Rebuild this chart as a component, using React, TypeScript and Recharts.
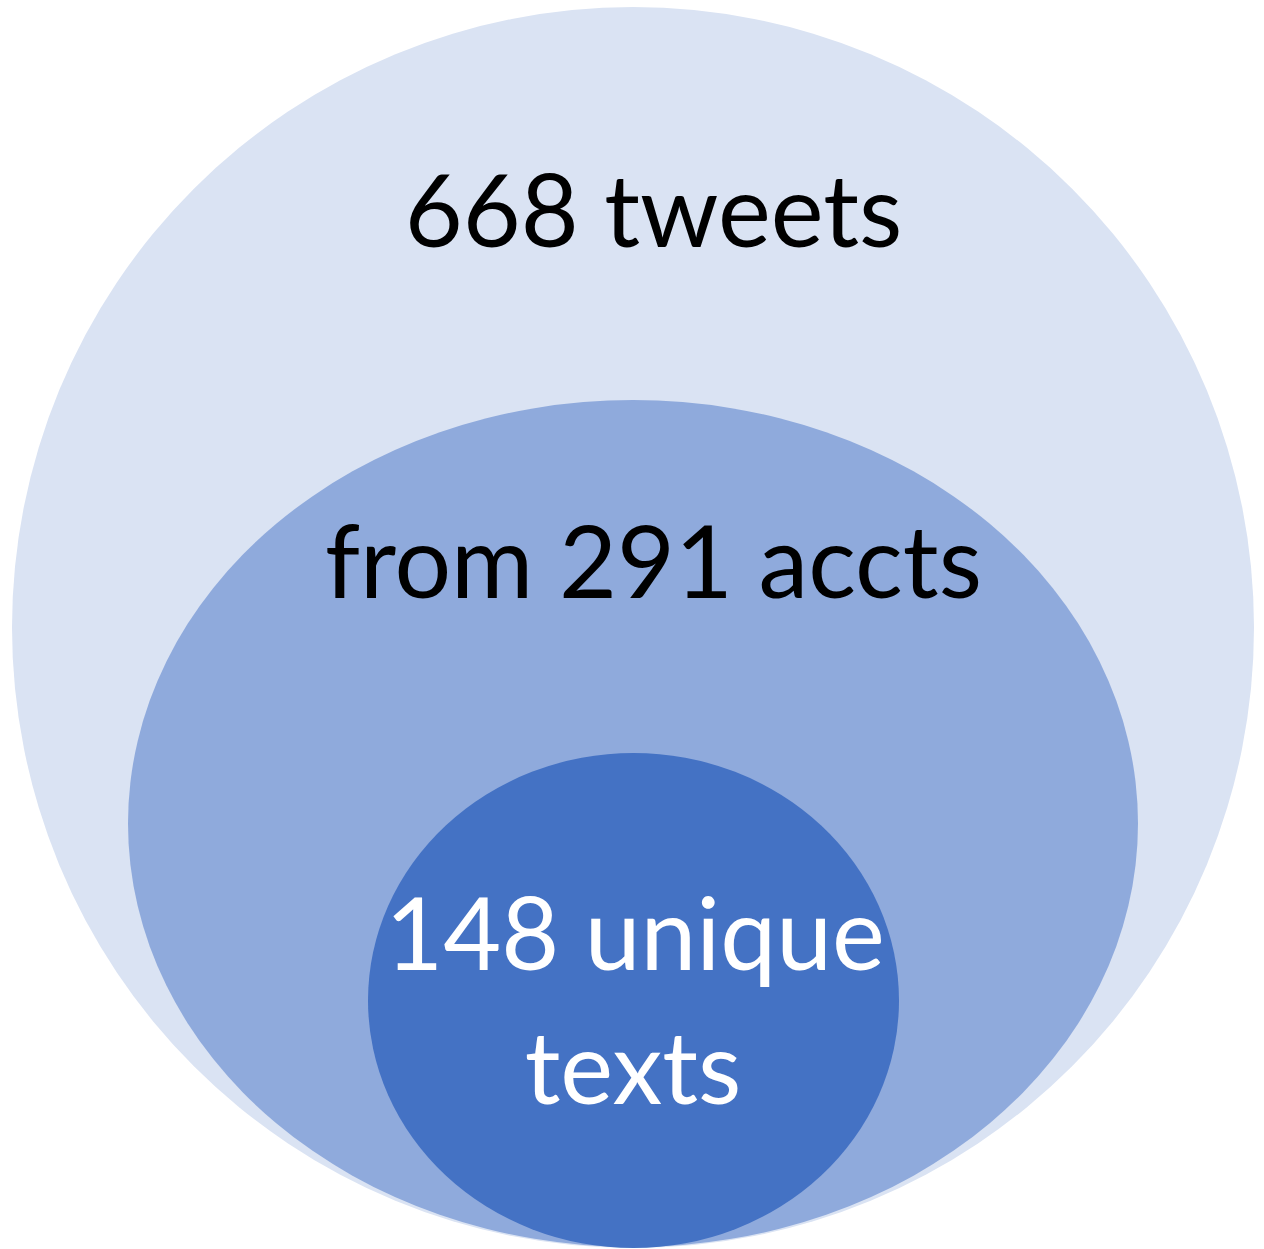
import { Scatter, ScatterChart, XAxis, YAxis } from "recharts";

const W = 1264;
const H = 1249;

// nested sets, outer to inner (coords in picture units)
const SET_NAMES = ["tweets", "accounts", "unique texts"];
const SET_CX = [633, 633, 633.5];
const SET_CY = [627.5, 823.5, 1000.5];
const SET_RX = [621, 505, 265.5];
const SET_RY = [620.5, 423.5, 247.5];
const SET_FILL = ["#dae3f3", "#8faadc", "#4472c4"];

const LABEL_TEXT = ["668 tweets", "from 291 accts", "148 unique", "texts"];
const LABEL_X = [653.5, 653.5, 635, 633];
const LABEL_Y = [247, 598, 970, 1104];
const LABEL_COLOR = ["#000000", "#000000", "#ffffff", "#ffffff"];

const sets = SET_NAMES.map((name, i) => ({
  name, x: SET_CX[i], y: SET_CY[i], rx: SET_RX[i], ry: SET_RY[i], fill: SET_FILL[i],
}));
const labels = LABEL_TEXT.map((text, i) => ({
  text, x: LABEL_X[i], y: LABEL_Y[i], color: LABEL_COLOR[i],
}));

const KX = W / W;
const KY = H / H;

function EllipseShape(props: any) {
  const { cx, cy, payload } = props;
  return <ellipse cx={cx} cy={cy} rx={payload.rx * KX} ry={payload.ry * KY} fill={payload.fill} />;
}

function TextShape(props: any) {
  const { cx, cy, payload } = props;
  return (
    <text x={cx} y={cy} textAnchor="middle" fill={payload.color}
      style={{ fontFamily: "Lato, sans-serif", fontSize: 100 }}>
      {payload.text}
    </text>
  );
}

export default function App() {
  return (
    <div style={{ background: "#fff", width: W, height: H }}>
      <style>{"body{margin:0}"}</style>
      <ScatterChart width={W} height={H} margin={{ top: 0, right: 0, bottom: 0, left: 0 }}>
        <XAxis type="number" dataKey="x" domain={[0, W]} hide />
        <YAxis type="number" dataKey="y" domain={[0, H]} reversed hide />
        {sets.map((s) => (
          <Scatter key={s.name} data={[s]} shape={EllipseShape} isAnimationActive={false} />
        ))}
        <Scatter data={labels} shape={TextShape} isAnimationActive={false} />
      </ScatterChart>
    </div>
  );
}
